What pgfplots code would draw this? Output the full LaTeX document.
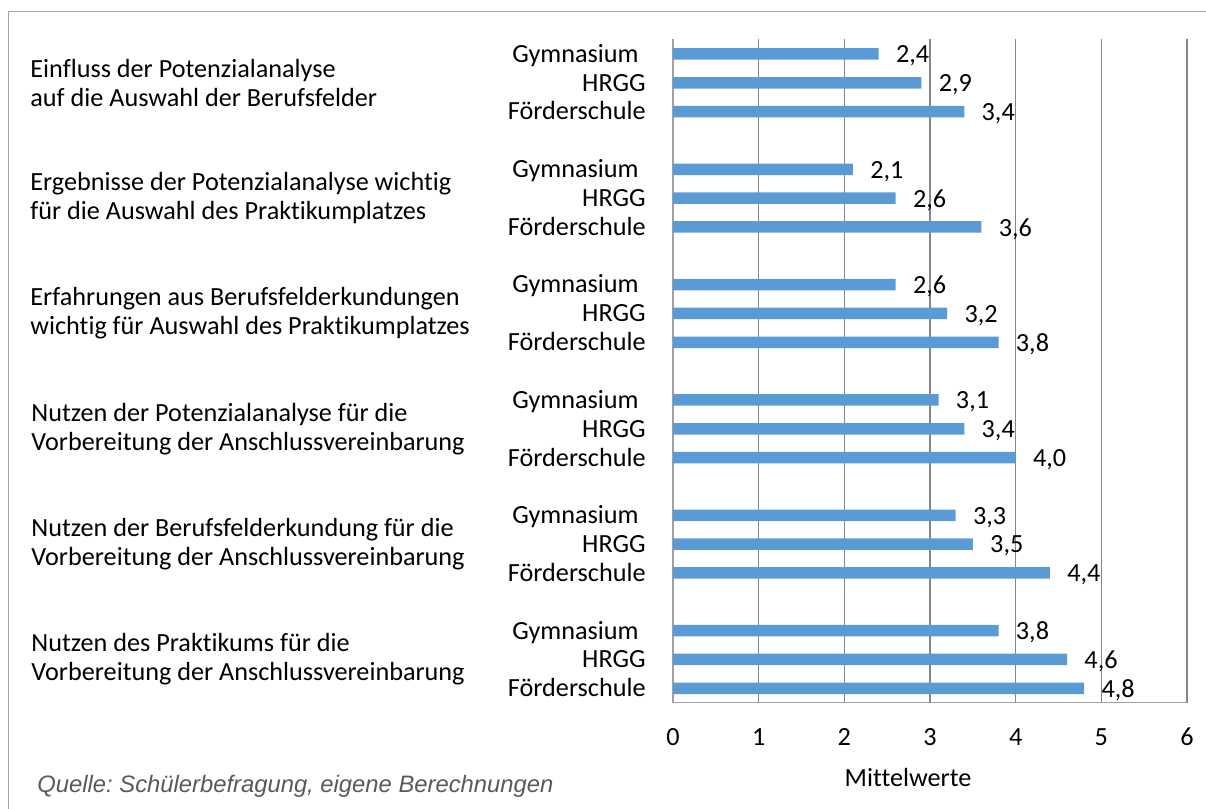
\documentclass[border=0pt]{standalone}
\usepackage{pgfplots}
\pgfplotsset{compat=1.18}
\usepackage{fontspec}
\setmainfont{Carlito}[Ligatures=NoCommon]
\newfontfamily\arialfont{Liberation Sans}
\definecolor{barblue}{HTML}{5B9BD5}
\definecolor{gridgray}{HTML}{868686}
\definecolor{axisgray}{HTML}{A0A0A0}
\definecolor{framegray}{HTML}{A6A6A6}
\definecolor{notegray}{HTML}{595959}

\begin{document}
\frenchspacing
\fontsize{13.1}{14.5}\selectfont
\begin{tikzpicture}
\path[use as bounding box] (0pt,0pt) rectangle (603pt,404.5pt);
\draw[framegray, line width=0.75pt] (4.25pt,-2pt) -- (4.25pt,398.65pt) -- (606pt,398.65pt);
\coordinate (LA) at (15pt,0pt);
\coordinate (LB) at (15.5pt,0pt);

\begin{axis}[
  at={(336.5pt,53.15pt)}, anchor=south west,
  scale only axis, width=257pt, height=331.6pt,
  xbar, bar width=5.75pt, bar shift=0pt,
  xmin=0, xmax=6, ymin=-0.5, ymax=22.5,
  xtick={0,1,2,3,4,5,6}, ytick=\empty,
  minor ytick={-0.5,0.5,...,22.5},
  axis x line*=bottom, axis y line*=left,
  axis line style={axisgray, line width=0.75pt},
  xmajorgrids, grid style={gridgray, line width=0.6pt},
  major tick length=0pt, minor tick length=4.5pt, tick align=outside,
  minor tick style={axisgray, line width=0.75pt},
  /pgf/number format/assume math mode=true,
  xticklabel style={anchor=center, inner sep=0pt, yshift=-17.15pt},
  point meta=x,
  nodes near coords={\pgfmathprintnumber[fixed,fixed zerofill,precision=1,use comma,assume math mode=true]{\pgfplotspointmeta}},
  every node near coord/.append style={anchor=west, inner sep=0pt, xshift=8.5pt, yshift=-1pt, black},
  clip=false,
]
\addplot[fill=barblue, draw=none] coordinates {
  (2.4,22) (2.9,21) (3.4,20)
  (2.1,18) (2.6,17) (3.6,16)
  (2.6,14) (3.2,13) (3.8,12)
  (3.1,10) (3.4,9)  (4.0,8)
  (3.3,6)  (3.5,5)  (4.4,4)
  (3.8,2)  (4.6,1)  (4.8,0)
};
\tikzset{gl/.style={anchor=east, inner sep=0pt, text height=8.4pt, text depth=0pt, xshift=-13.5pt},
         gy/.style={anchor=east, inner sep=0pt, text height=8.4pt, text depth=0pt, xshift=-17pt}}
\node[gy] at (axis cs:0,22) {Gymnasium};
\node[gl] at (axis cs:0,21) {HRGG};
\node[gl] at (axis cs:0,20) {Förderschule};
\node[gy] at (axis cs:0,18) {Gymnasium};
\node[gl] at (axis cs:0,17) {HRGG};
\node[gl] at (axis cs:0,16) {Förderschule};
\node[gy] at (axis cs:0,14) {Gymnasium};
\node[gl] at (axis cs:0,13) {HRGG};
\node[gl] at (axis cs:0,12) {Förderschule};
\node[gy] at (axis cs:0,10) {Gymnasium};
\node[gl] at (axis cs:0,9) {HRGG};
\node[gl] at (axis cs:0,8) {Förderschule};
\node[gy] at (axis cs:0,6) {Gymnasium};
\node[gl] at (axis cs:0,5) {HRGG};
\node[gl] at (axis cs:0,4) {Förderschule};
\node[gy] at (axis cs:0,2) {Gymnasium};
\node[gl] at (axis cs:0,1) {HRGG};
\node[gl] at (axis cs:0,0) {Förderschule};
\coordinate (g1) at (axis cs:0,21);
\coordinate (g2) at (axis cs:0,17);
\coordinate (g3) at (axis cs:0,13);
\coordinate (g4) at (axis cs:0,9);
\coordinate (g5) at (axis cs:0,5);
\coordinate (g6) at (axis cs:0,1);
\end{axis}

\tikzset{grp/.style={anchor=west, align=left, inner sep=0pt}}
\node[grp] at (LA |- g1) {Einfluss der Potenzialanalyse\\auf die Auswahl der Berufsfelder};
\node[grp] at (LA |- g2) {Ergebnisse der Potenzialanalyse wichtig\\für die Auswahl des Praktikumplatzes};
\node[grp] at (LA |- g3) {Erfahrungen aus Berufsfelderkundungen\\wichtig für Auswahl des Praktikumplatzes};
\node[grp] at (LB |- g4) {Nutzen der Potenzialanalyse für die\\Vorbereitung der Anschlussvereinbarung};
\node[grp] at (LB |- g5) {Nutzen der Berufsfelderkundung für die\\Vorbereitung der Anschlussvereinbarung};
\node[grp] at (LB |- g6) {Nutzen des Praktikums für die\\Vorbereitung der Anschlussvereinbarung};

\node at (454pt,15.5pt) {Mittelwerte};
\node[anchor=west, inner sep=0pt, text=notegray] at (18.5pt,11.5pt) {\arialfont\itshape\fontsize{11.9}{14}\selectfont Quelle: Schülerbefragung, eigene Berechnungen};
\end{tikzpicture}
\end{document}
